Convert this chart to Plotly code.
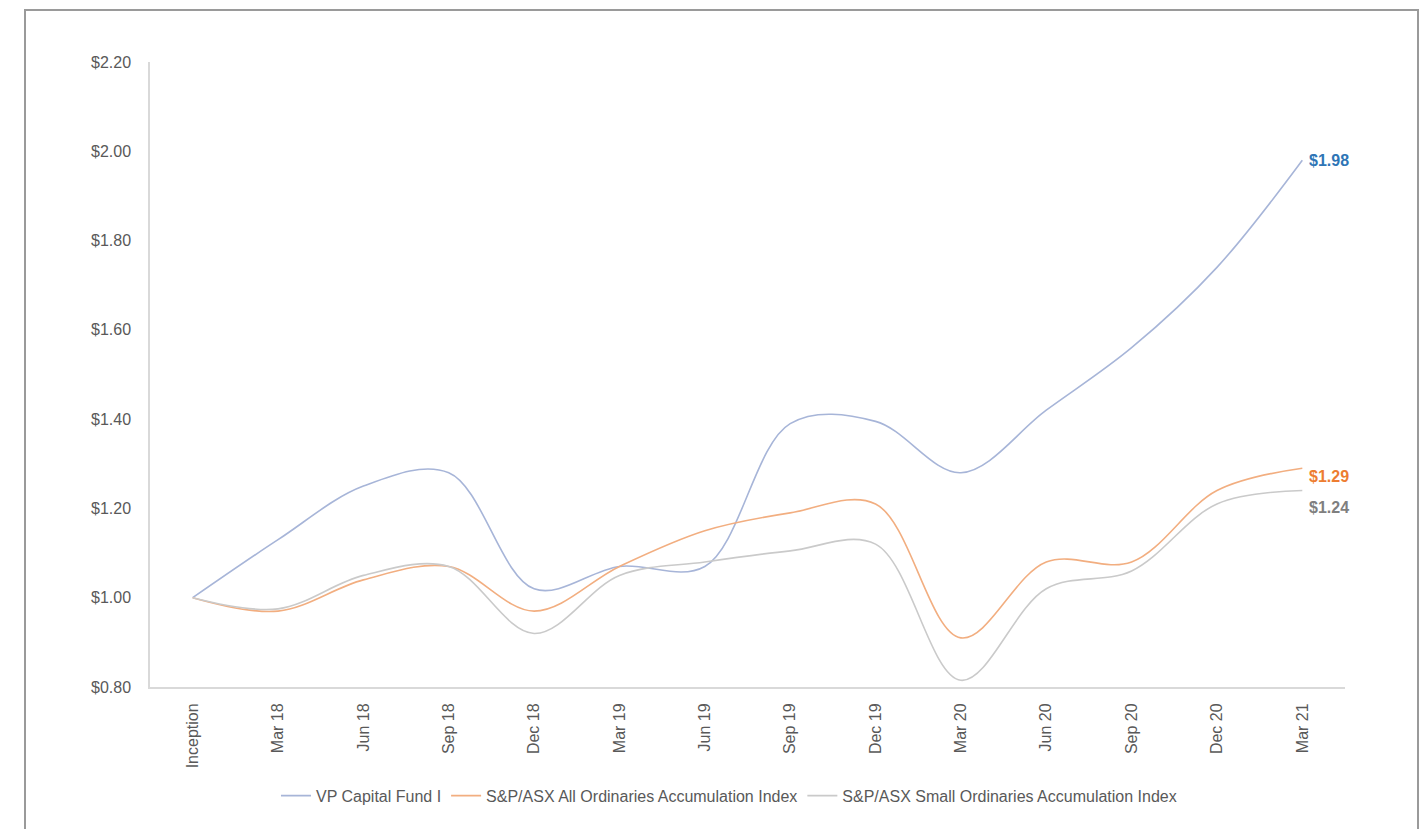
import plotly.graph_objects as go

# Quarter-end labels along the category axis
periods = ["Inception", "Mar 18", "Jun 18", "Sep 18", "Dec 18", "Mar 19", "Jun 19",
           "Sep 19", "Dec 19", "Mar 20", "Jun 20", "Sep 20", "Dec 20", "Mar 21"]

# Growth of $1 invested at inception
fund_values = [1.00, 1.13, 1.25, 1.28, 1.02, 1.07, 1.07, 1.39, 1.395, 1.28, 1.42, 1.56, 1.74, 1.98]
all_ords_values = [1.00, 0.97, 1.04, 1.07, 0.97, 1.07, 1.15, 1.19, 1.21, 0.91, 1.08, 1.08, 1.24, 1.29]
small_ords_values = [1.00, 0.975, 1.05, 1.07, 0.92, 1.05, 1.08, 1.105, 1.12, 0.815, 1.02, 1.06, 1.21, 1.24]

series_names = ["VP Capital Fund I",
                "S&P/ASX All Ordinaries Accumulation Index",
                "S&P/ASX Small Ordinaries Accumulation Index"]

y_ticks = [0.80, 1.00, 1.20, 1.40, 1.60, 1.80, 2.00, 2.20]

line_colors = ["#A7B5D8", "#F2AE80", "#CACACA"]
label_colors = ["#2E75B6", "#ED7D31", "#7F7F7F"]
label_shift = [0, -8, -17]

FONT = "Liberation Sans, Arial, sans-serif"

fig = go.Figure()
for name, vals, col in zip(series_names,
                           [fund_values, all_ords_values, small_ords_values],
                           line_colors):
    fig.add_trace(go.Scatter(
        x=periods, y=vals, name=name, mode="lines",
        line=dict(color=col, width=1.6, shape="spline", smoothing=1.0),
        hoverinfo="skip",
    ))

# End-of-period value labels
for vals, col, shift in zip([fund_values, all_ords_values, small_ords_values],
                            label_colors, label_shift):
    fig.add_annotation(
        x=periods[-1], y=vals[-1], xref="x", yref="y",
        text=f"<b>${vals[-1]:.2f}</b>", showarrow=False,
        xanchor="left", yanchor="middle", xshift=5, yshift=shift,
        font=dict(family=FONT, size=16, color=col),
    )

# Chart frame
fig.add_shape(type="rect", xref="paper", yref="paper",
              x0=-0.1046, x1=1.0611, y0=-0.2368, y1=1.0832,
              line=dict(color="#9A9A9A", width=2), fillcolor="rgba(0,0,0,0)",
              layer="below")

fig.update_layout(
    width=1421, height=829,
    margin=dict(l=150, r=76, t=62, b=142),
    paper_bgcolor="white", plot_bgcolor="white",
    font=dict(family=FONT, size=16, color="#595959"),
    showlegend=True,
    legend=dict(orientation="h", x=0.4845, xanchor="center", y=-0.174, yanchor="middle",
                font=dict(family=FONT, size=16, color="#595959"),
                itemwidth=30, bgcolor="rgba(0,0,0,0)"),
    xaxis=dict(
        type="category", range=[-0.5, len(periods) - 0.5],
        showgrid=False, zeroline=False,
        showline=True, linecolor="#D9D9D9", linewidth=2,
        ticks="", tickangle=-90, ticklabelstandoff=8,
        tickfont=dict(family=FONT, size=16, color="#595959"),
    ),
    yaxis=dict(
        range=[0.80, 2.20], tickvals=y_ticks,
        ticktext=[f"${v:.2f}" for v in y_ticks],
        showgrid=False, zeroline=False,
        showline=True, linecolor="#D9D9D9", linewidth=1.5,
        ticks="", ticklabelstandoff=14,
        tickfont=dict(family=FONT, size=16, color="#595959"),
    ),
)

fig.write_html("out.html")
